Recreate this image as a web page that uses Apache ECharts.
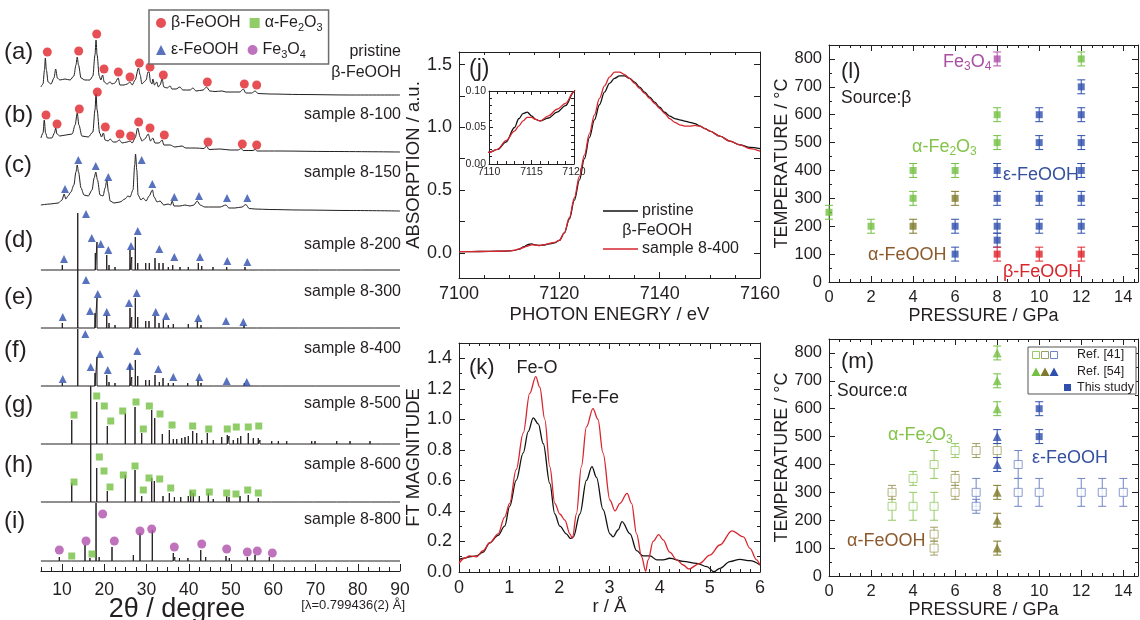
<!DOCTYPE html>
<html>
<head>
<meta charset="utf-8">
<script src="https://cdn.jsdelivr.net/npm/echarts@6.0.0/dist/echarts.min.js"></script>
<style>
  html, body { margin: 0; padding: 0; background: #fff; }
  #chart { width: 1140px; height: 620px; }
</style>
</head>
<body>
<div id="chart"></div>
<script>
// ---------- XRD patterns: [2θ (deg), intensity (arb.)] ----------
const XRD_A = [[5.0,8],[5.5,11],[5.85,25],[6.05,37],[6.3,25],[6.7,13],[7.4,11],[8.1,17],[8.5,26],[8.9,17],[9.5,15],[10.7,16],[11.9,15],[12.8,19],[13.3,30],[13.6,38],[13.9,30],[14.5,17],[15.4,15],[16.6,15],[17.3,19],[17.8,40],[18.05,55],[18.3,40],[18.8,19],[19.2,15],[19.6,20],[20.0,13],[20.65,11],[21.4,13],[21.8,11],[22.5,12],[23.3,17],[23.7,10],[24.7,10],[25.4,11],[26.1,13],[26.6,10],[27.3,15],[28.1,27],[28.5,20],[28.9,11],[29.4,13],[29.9,15],[30.35,23],[30.6,23],[30.95,13],[31.3,11],[31.5,16],[31.9,10],[32.4,13],[32.8,8],[33.2,10],[33.7,16],[34.1,8],[34.85,7],[35.6,9],[36.0,6],[37.0,6],[37.9,8],[38.6,5],[40.3,5],[41.0,7],[41.7,4],[43.4,5],[44.2,8],[45.0,4],[46.2,3.5],[47.9,4],[48.8,3],[50.2,3],[52.1,3],[52.9,6],[53.5,2],[54.9,2],[55.7,4],[56.4,1.5],[59.2,1],[66.3,0.5],[78.2,0],[90,0]];
const XRD_B = [[5.0,14],[5.5,19],[5.8,32],[6.1,19],[6.55,14],[7.6,14],[8.2,19],[8.5,24],[8.8,18],[9.5,16],[10.9,17],[12.4,18],[13.1,27],[13.6,39],[14.0,27],[14.7,16],[16.2,15],[17.3,20],[17.8,42],[18.05,58],[18.3,42],[18.9,19],[19.35,15],[19.8,19],[20.2,12],[20.9,11],[21.4,13],[22.1,10],[22.8,10],[23.6,12],[24.2,9],[25.4,10],[26.1,11],[26.6,9],[27.3,14],[27.9,24],[28.5,15],[28.9,11],[29.6,13],[30.4,18],[30.95,11],[31.5,14],[32.0,9],[32.96,9],[33.7,12],[34.1,7],[35.6,7],[36.7,5],[38.4,6],[39.3,4],[41.5,4],[43.6,3.5],[44.2,6],[44.8,2.5],[47.4,3],[49.8,2],[51.7,2],[52.4,3.5],[52.9,1.5],[55.2,1.5],[55.7,2.5],[56.2,1],[61.6,1],[73.4,0.5],[90,0]];
const XRD_C = [[5.0,6],[7.2,7],[9.1,8],[10.0,11],[10.5,17],[10.9,12],[11.4,15],[12.1,19],[12.8,26],[13.3,39],[13.6,46],[13.9,39],[14.5,23],[15.2,16],[16.2,15],[17.1,21],[17.6,33],[18.0,39],[18.4,31],[19.0,16],[19.7,15],[20.2,23],[20.6,31],[21.0,19],[21.4,10],[22.3,8],[23.7,9],[24.9,12],[25.6,15],[26.1,14],[26.8,21],[27.2,46],[27.4,57],[27.7,41],[28.0,16],[28.7,11],[29.2,13],[29.9,10],[30.6,15],[31.4,21],[31.8,14],[32.5,9],[33.2,10],[34.1,6],[35.1,7],[35.7,6],[36.1,10],[36.5,5],[37.2,5],[37.9,5],[39.1,6],[40.3,5],[41.2,6],[42.0,10],[42.7,6],[43.8,4],[45.5,4],[47.4,4],[48.8,6],[49.5,3],[50.9,3],[52.6,4],[53.5,6.5],[54.3,2.5],[55.7,2],[59.2,1.5],[66.3,1],[78.2,0.5],[90,0]];
// sharp patterns as reflection lists: [2θ, peak height]
const XRD_D = [[10.07,5],[13.72,57],[17.88,17],[18.28,28],[20.58,15],[21.12,5],[22.54,3],[26.09,20],[26.50,13],[27.35,33],[27.92,7],[29.81,7],[30.66,7],[32.01,12],[32.96,7],[33.91,7],[35.16,3],[36.20,5],[37.93,3],[39.89,3],[42.26,7],[43.07,4],[45.74,3],[48.98,3],[53.31,3],[54.09,2],[56.5,1.5],[58,1],[61,1],[64,1],[67,1],[71,1],[75,1],[80.9,1.5],[85,1]];
const XRD_E = [[10.07,5],[13.72,58],[17.81,15],[18.28,30],[20.58,13],[21.12,5],[22.54,3],[26.09,20],[26.50,11],[27.35,30],[27.92,11],[29.81,7],[30.59,7],[32.01,12],[32.96,5],[33.98,8],[35.16,3],[36.34,4],[38.33,2],[39.89,4],[42.02,7],[42.90,3],[45.81,2],[48.98,2],[53.08,3],[56,1],[60,1],[66,1],[72,1],[78,1],[84,1]];
const XRD_F = [[8.18,1],[10.07,3],[13.72,57],[17.81,13],[18.28,29],[20.58,11],[21.12,4],[22.54,3],[26.09,22],[26.50,9],[27.35,26],[27.92,10],[29.81,6],[30.66,6],[32.01,11],[33.03,4],[33.91,8],[35.16,3],[36.34,3],[39.75,3],[42.19,6],[42.90,3],[45.81,2],[48.98,2],[53.15,3],[57,1],[62,1],[70,1],[77,1],[86,1]];
const XRD_G = [[12.30,24],[16.79,58],[18.21,42],[20.0,2],[20.72,18],[21.5,1],[24.98,31],[27.28,37],[28.86,11],[31.23,34],[31.94,26],[33.74,10],[35.40,14],[36.34,5],[37.15,5],[38.33,6],[39.11,7],[39.89,8],[40.93,13],[41.88,11],[43.07,4],[44.39,11],[45.81,4],[47.80,7],[49.12,9],[49.53,8],[50.54,4],[51.58,6],[52.30,8],[54.09,11],[55.28,6],[56.46,6],[56.86,4],[59.63,3],[61.20,3],[63.18,3],[66.33,2],[69.10,3],[69.88,3],[72.25,2],[75.02,3],[78.17,3],[80.53,2],[82.90,3],[85.67,2],[87.63,2]];
const XRD_H = [[12.30,19],[16.79,58],[18.21,34],[20.72,11],[24.98,27],[27.28,32],[28.86,6],[31.23,24],[31.85,21],[33.9,6],[35.40,9],[36.6,5],[38.1,5],[39.89,6],[40.46,11],[41.08,9],[42.50,6],[44.63,9],[45.8,3],[48.98,6],[49.53,5],[52.13,6],[54.09,7],[56.46,4],[59.6,2],[63,2],[66.3,1.5],[69.5,2],[72,1.5],[75,2],[78,2],[81,1.5],[83,2],[86,1.5],[88,1.5]];
const XRD_I = [[9.36,4],[12.30,2],[15.44,16],[16.6,3],[18.05,58],[18.8,4],[21.83,14],[26.88,6],[28.46,28],[31.37,31],[36.34,8],[36.7,4],[37.8,3],[39.8,3],[42.83,11],[44.0,4],[48.82,5],[49.6,3],[53.86,4],[55.68,6],[59.07,4],[62,2],[64,1.5],[67,1.5],[70,1.5],[74,1],[78,1.5],[82,1],[86,1]];

// phase markers per pattern: [2θ, height]
const MARK_A = [[6.52,43],[13.95,44],[18.21,61],[19.94,26],[23.33,23],[26.09,18],[28.30,32],[30.83,28],[33.98,20],[44.39,13],[53.15,11],[56.08,10]];
const MARK_B = [[6.21,37],[8.82,28],[14.09,43],[18.36,60],[20.25,25],[23.73,18],[26.26,16],[28.15,30],[30.83,24],[34.21,17],[44.56,10],[52.67,8],[56.08,7]];
const MARK_C = [[10.71,22],[13.86,51],[17.98,45],[20.96,34],[28.86,51],[31.37,27],[36.58,14],[42.43,15],[49.05,13],[53.86,13]];
const MARK_D = [[10.47,11],[15.68,56],[17.03,32],[19.16,26],[20.96,20],[26.33,24],[27.92,39],[33.03,21],[36.58,13],[42.66,13],[49.12,9],[53.86,8]];
const MARK_E = [[10.17,11],[15.68,48],[16.63,17],[18.45,34],[20.58,16],[25.86,25],[27.68,35],[32.18,16],[34.62,12],[42.26,10],[48.82,7],[52.91,6]];
const MARK_F = [[10.17,7],[15.51,52],[16.79,19],[18.99,32],[20.82,16],[26.09,20],[27.82,35],[32.79,17],[36.34,9],[42.50,9],[48.98,5],[53.72,4]];
const MARK_G = [[12.84,29],[18.21,48],[20.01,38],[21.53,23],[24.37,33],[27.51,42],[29.24,15],[30.66,38],[33.20,30],[36.04,19],[40.93,18],[44.72,15],[49.12,15],[51.25,17],[54.09,17],[56.56,18]];
const MARK_H = [[12.84,20],[18.83,45],[19.94,31],[21.36,15],[24.51,27],[27.28,36],[29.24,12],[30.59,24],[33.12,23],[35.73,14],[40.93,9],[44.86,10],[48.98,9],[51.18,8],[53.95,12],[56.46,9]];
const MARK_I_MAG = [[9.36,11],[15.68,20],[19.63,47],[22.38,20],[28.46,30],[31.23,32],[36.58,14],[43.07,17],[48.98,12],[53.86,9],[56.22,10],[59.78,8]];
const MARK_I_HEM = [[12.30,5],[17.10,7]];

const XRD_LABELS = ['(a)', '(b)', '(c)', '(d)', '(e)', '(f)', '(g)', '(h)', '(i)'];
const XRD_SAMPLES = [['pristine', 'β-FeOOH'], ['sample 8-100'], ['sample 8-150'], ['sample 8-200'], ['sample 8-300'], ['sample 8-400'], ['sample 8-500'], ['sample 8-600'], ['sample 8-800']];
const XRD_TICK_LABELS = [10, 20, 30, 40, 50, 60, 70, 80, 90];

// ---------- (j) Fe K-edge XANES: [photon energy (eV), absorption] ----------
const J_PRISTINE = [[7100,0.010],[7104,0.011],[7108,0.013],[7110,0.016],[7111,0.020],[7112,0.030],[7113,0.050],[7113.5,0.062],[7114,0.069],[7114.5,0.071],[7115,0.066],[7115.5,0.061],[7116,0.059],[7117,0.063],[7118,0.071],[7119,0.080],[7120,0.099],[7121,0.16],[7122,0.27],[7123,0.42],[7124,0.58],[7125,0.75],[7126,0.92],[7127,1.06],[7128,1.18],[7129,1.28],[7130,1.35],[7131,1.39],[7132,1.41],[7133,1.41],[7134,1.39],[7135,1.36],[7136,1.32],[7137,1.28],[7138,1.24],[7139,1.20],[7140,1.16],[7141,1.12],[7142,1.09],[7143,1.07],[7144,1.06],[7145,1.05],[7146,1.04],[7147,1.03],[7148,1.01],[7149,0.99],[7150,0.97],[7152,0.93],[7154,0.89],[7156,0.86],[7158,0.84],[7160,0.83]];
const J_SAMPLE = [[7100,0.010],[7104,0.011],[7108,0.013],[7110,0.016],[7111,0.020],[7112,0.032],[7113,0.045],[7113.5,0.052],[7114,0.059],[7114.5,0.064],[7115,0.064],[7115.5,0.061],[7116,0.059],[7117,0.066],[7118,0.075],[7119,0.083],[7120,0.099],[7121,0.16],[7122,0.28],[7123,0.44],[7124,0.61],[7125,0.78],[7126,0.95],[7127,1.10],[7128,1.23],[7129,1.33],[7130,1.40],[7131,1.44],[7132,1.44],[7133,1.42],[7134,1.39],[7135,1.35],[7136,1.31],[7137,1.27],[7138,1.23],[7139,1.19],[7140,1.15],[7141,1.11],[7142,1.07],[7143,1.04],[7144,1.02],[7145,1.01],[7146,1.01],[7147,1.015],[7148,1.01],[7149,0.99],[7150,0.97],[7152,0.93],[7154,0.89],[7156,0.86],[7158,0.83],[7160,0.81]];
const J_Y_LABELS = [0, 0.5, 1.0, 1.5];

// ---------- (k) Fourier transform of EXAFS: [r (Å), |FT|] ----------
const K_PRISTINE = [[0,0.083],[0.11,0.09],[0.21,0.10],[0.35,0.105],[0.48,0.13],[0.61,0.19],[0.78,0.24],[0.91,0.30],[1.01,0.43],[1.14,0.60],[1.28,0.78],[1.38,0.92],[1.48,1.01],[1.58,0.97],[1.68,0.84],[1.81,0.58],[1.91,0.38],[2.01,0.30],[2.14,0.25],[2.22,0.22],[2.28,0.23],[2.41,0.38],[2.54,0.60],[2.65,0.69],[2.74,0.62],[2.87,0.41],[3.01,0.25],[3.07,0.23],[3.17,0.275],[3.25,0.33],[3.41,0.25],[3.54,0.14],[3.67,0.105],[3.81,0.105],[3.94,0.08],[4.07,0.08],[4.20,0.09],[4.47,0.07],[4.74,0.057],[4.94,0.035],[5.08,0.002],[5.20,0.024],[5.40,0.068],[5.60,0.083],[5.80,0.074],[6.0,0.046]];
const K_SAMPLE = [[0,0.057],[0.11,0.09],[0.21,0.105],[0.35,0.10],[0.48,0.14],[0.61,0.19],[0.78,0.25],[0.91,0.36],[1.01,0.45],[1.14,0.67],[1.28,0.91],[1.41,1.17],[1.53,1.28],[1.61,1.21],[1.71,1.0],[1.81,0.69],[1.91,0.45],[2.01,0.38],[2.11,0.34],[2.21,0.25],[2.26,0.22],[2.34,0.38],[2.44,0.69],[2.54,0.95],[2.67,1.07],[2.77,1.0],[2.87,0.78],[3.01,0.47],[3.11,0.40],[3.21,0.45],[3.35,0.515],[3.44,0.45],[3.54,0.25],[3.64,0.10],[3.72,0.005],[3.77,0.08],[3.87,0.20],[3.98,0.245],[4.07,0.21],[4.20,0.13],[4.34,0.08],[4.47,0.046],[4.58,0.02],[4.80,0.057],[5.00,0.11],[5.20,0.177],[5.44,0.27],[5.67,0.23],[5.80,0.155],[5.93,0.08],[6.0,0.046]];

// ---------- (l) products from β-FeOOH: [pressure (GPa), temperature (°C)] ----------
const L_ERR = 25;
const L_HEMATITE = [[0,250],[2,200],[4,300],[4,400],[6,400],[8,500],[8,600],[12,800]];
const L_GOETHITE = [[4,200],[6,300]];
const L_EPSILON = [[6,100],[6,200],[8,150],[8,200],[8,300],[8,400],[10,200],[10,300],[10,500],[10,600],[12,200],[12,300],[12,400],[12,500],[12,600],[12,700]];
const L_AKAGANEITE = [[8,100],[10,100],[12,100]];
const L_MAGNETITE = [[8,800]];

// ---------- (m) products from α-FeOOH: [pressure, temperature, error] ----------
const M_REF41_HEM = [[3,250,50],[4,350,25],[4,250,50],[5,400,50],[5,250,50],[6,450,25]];
const M_REF41_GOE = [[3,300,25],[5,150,25],[5,100,25],[6,350,25],[6,300,25],[7,450,25],[8,450,25]];
const M_REF41_EPS = [[7,300,50],[7,250,25],[9,400,50],[9,300,50],[10,300,50],[12,300,50],[13,300,50],[14,300,50]];
const M_REF54_HEM = [[8,800,25],[8,700,25],[8,600,25]];
const M_REF54_EPS = [[8,500,25],[8,400,25]];
const M_REF54_GOE = [[8,300,25],[8,200,25],[8,100,25]];
const M_THIS_EPS = [[10,600,25],[10,500,25]];

// ---------- styling ----------
const INK = '#231f20';
const FONT = '"Liberation Sans", Arial, Helvetica, sans-serif';
const RED = '#e0242b', BLUE = '#2f4fae', GREEN = '#74c043', PURPLE = '#b050ad', OLIVE = '#7f7a2c', BROWN = '#8c5a2c';
const TXT_GREEN = '#84c44a', TXT_BLUE = '#34509f', TXT_RED = '#d8262c', TXT_PURPLE = '#a94fa3';
const OPEN_GREEN = '#92cb62', OPEN_OLIVE = '#a09d62', OPEN_BLUE = '#6f84c6';

const XRD_MIN = 5, XRD_MAX = 90;
const XRD_LEFT = 40.9, XRD_W = 359.1, XRD_ROW_H = 70;
const XRD_BASE = [95, 152, 211, 270, 328, 386, 444, 502, 561];
const XRD_LABEL_Y = [52, 115, 165, 240, 297, 350, 405, 465, 521];
const XRD_SAMPLE_Y = [52, 115, 173, 245, 292, 349, 404, 465, 520];

function sticks(list) {
  const out = [[XRD_MIN, 0]];
  list.forEach(([p, h]) => { out.push([p, 0], [p, h], [p, 0]); });
  out.push([XRD_MAX, 0]);
  return out;
}
function range(a, b, step) { const r = []; for (let v = a; v <= b + 1e-9; v += step) r.push(+v.toFixed(4)); return r; }
function subText(s) { return s.replace(/(\d)/g, '{s|$1}'); }
const plain = v => String(v);

const grids = [], xAxis = [], yAxis = [], series = [];

// ----- stacked XRD patterns, one grid each -----
const PATTERNS = [
  { data: XRD_A, smooth: true }, { data: XRD_B, smooth: true }, { data: XRD_C, smooth: true },
  { data: sticks(XRD_D) }, { data: sticks(XRD_E) }, { data: sticks(XRD_F) },
  { data: sticks(XRD_G) }, { data: sticks(XRD_H) }, { data: sticks(XRD_I) }
];
const PHASE = {
  beta: { name: 'β-FeOOH', symbol: 'circle', size: 9, color: RED },
  eps: { name: 'ε-FeOOH', symbol: 'triangle', size: 8, color: BLUE },
  hem: { name: 'α-Fe2O3', symbol: 'rect', size: 7, color: GREEN },
  mag: { name: 'Fe3O4', symbol: 'circle', size: 9, color: PURPLE }
};
const MARKERS = [
  [['beta', MARK_A]], [['beta', MARK_B]], [['eps', MARK_C]], [['eps', MARK_D]], [['eps', MARK_E]],
  [['eps', MARK_F]], [['hem', MARK_G]], [['hem', MARK_H]], [['mag', MARK_I_MAG], ['hem', MARK_I_HEM]]
];
PATTERNS.forEach((p, i) => {
  grids.push({ left: XRD_LEFT, top: XRD_BASE[i] - XRD_ROW_H, width: XRD_W, height: XRD_ROW_H });
  xAxis.push({ type: 'value', gridIndex: i, min: XRD_MIN, max: XRD_MAX, show: false });
  yAxis.push({ type: 'value', gridIndex: i, min: 0, max: XRD_ROW_H, show: false });
  series.push({
    type: 'line', xAxisIndex: i, yAxisIndex: i, data: p.data, symbol: 'none',
    smooth: p.smooth ? 0.3 : false, smoothMonotone: 'x', clip: false, silent: true,
    lineStyle: { color: INK, width: 1 }, z: 2
  });
  MARKERS[i].forEach(([key, pts]) => {
    const ph = PHASE[key];
    series.push({
      type: 'scatter', name: ph.name, xAxisIndex: i, yAxisIndex: i, data: pts,
      symbol: ph.symbol, symbolSize: ph.size, itemStyle: { color: ph.color }, clip: false, z: 3
    });
  });
});

// ----- XRD 2θ axis (grid 9) -----
grids.push({ left: XRD_LEFT, top: 500, width: XRD_W, height: 71 });
xAxis.push({
  type: 'value', gridIndex: 9, position: 'bottom', min: XRD_MIN, max: XRD_MAX,
  axisLine: { show: true, onZero: false, lineStyle: { color: INK, width: 1 } },
  axisTick: { show: true, inside: true, length: 7, customValues: XRD_TICK_LABELS, lineStyle: { color: INK } },
  axisLabel: { customValues: XRD_TICK_LABELS, color: INK, fontFamily: FONT, fontSize: 17.5, margin: 10, formatter: plain },
  splitLine: { show: false }
});
xAxis.push({
  type: 'value', gridIndex: 9, position: 'bottom', min: XRD_MIN, max: XRD_MAX,
  axisLine: { show: false },
  axisTick: { show: true, inside: true, length: 4, customValues: range(5, 90, 2.5).filter(v => v % 10 !== 0), lineStyle: { color: INK } },
  axisLabel: { show: false }, splitLine: { show: false }
});
yAxis.push({ type: 'value', gridIndex: 9, min: 0, max: 1, show: false });

// ----- framed panels -----
function axis(gridIndex, position, spec, labelled) {
  const a = {
    type: 'value', gridIndex, position, min: spec.min, max: spec.max,
    axisLine: { show: true, onZero: false, lineStyle: { color: INK, width: 1 } },
    axisTick: { show: true, inside: true, length: spec.tickLen || 6, lineStyle: { color: INK, width: 1 } },
    minorTick: { show: !!spec.minor, splitNumber: spec.minor || 2, length: 3, lineStyle: { color: INK, width: 1 } },
    splitLine: { show: false }, minorSplitLine: { show: false },
    axisLabel: { show: !!labelled, color: INK, fontFamily: FONT, fontSize: spec.fontSize || 18, margin: spec.margin || 7,
      formatter: spec.fmt || plain }
  };
  if (spec.interval != null) a.interval = spec.interval;
  if (spec.ticks) a.axisTick.customValues = spec.ticks;
  if (spec.labels) a.axisLabel.customValues = spec.labels;
  if (spec.hideMax) a.axisLabel.showMaxLabel = false;
  if (labelled && spec.name) {
    a.name = spec.name; a.nameLocation = 'middle'; a.nameGap = spec.nameGap;
    a.nameTextStyle = { color: INK, fontFamily: FONT, fontSize: spec.nameSize || 18.5 };
  }
  return a;
}
function framed(gridIndex, gridRect, xs, ys) {
  grids.push(Object.assign({}, gridRect));
  const xi = xAxis.length, yi = yAxis.length;
  xAxis.push(axis(gridIndex, 'bottom', xs, true), axis(gridIndex, 'top', xs, false));
  yAxis.push(axis(gridIndex, 'left', ys, true), axis(gridIndex, 'right', ys, false));
  return { xi, yi };
}

// (j) XANES
const J = framed(10, { left: 459, top: 52, width: 301, height: 226 },
  { min: 7100, max: 7160, interval: 20, minor: 4, fontSize: 18, name: 'PHOTON ENEGRY / eV', nameGap: 27 },
  { min: -0.2, max: 1.6, labels: J_Y_LABELS, ticks: range(0, 1.5, 0.25), fmt: v => v.toFixed(1), fontSize: 18, name: 'ABSORPTION / a.u.', nameGap: 30 });
// (j) inset: pre-edge region
const JI = framed(11, { left: 489, top: 91, width: 85, height: 73, show: true, backgroundColor: '#fff', borderWidth: 0 },
  { min: 7110, max: 7120, interval: 5, minor: 5, fontSize: 10.5, margin: 3, tickLen: 4 },
  { min: 0, max: 0.10, interval: 0.05, minor: 5, fontSize: 10.5, margin: 3, tickLen: 4, fmt: v => v.toFixed(2) });
// (k) FT magnitude
const K = framed(12, { left: 459, top: 343, width: 301, height: 229 },
  { min: 0, max: 6, interval: 1, minor: 5, fontSize: 18, name: 'r / Å', nameGap: 22 },
  { min: 0, max: 1.5, interval: 0.2, minor: 2, fontSize: 18, hideMax: true, fmt: v => v.toFixed(1), name: 'FT MAGNITUDE', nameGap: 31 });
// (l) source β-FeOOH
const L = framed(13, { left: 829, top: 45, width: 309, height: 237 },
  { min: 0, max: 14.7, interval: 2, minor: 4, fontSize: 16.5, hideMax: true, name: 'PRESSURE / GPa', nameGap: 23, nameSize: 18 },
  { min: 0, max: 850, interval: 100, minor: 2, fontSize: 16.5, hideMax: true, name: 'TEMPERATURE / °C', nameGap: 30, nameSize: 18 });
// (m) source α-FeOOH
const M = framed(14, { left: 829, top: 339, width: 309, height: 237 },
  { min: 0, max: 14.7, interval: 2, minor: 4, fontSize: 16.5, hideMax: true, name: 'PRESSURE / GPa', nameGap: 18, nameSize: 18 },
  { min: 0, max: 850, interval: 100, minor: 2, fontSize: 16.5, hideMax: true, name: 'TEMPERATURE / °C', nameGap: 30, nameSize: 18 });

function curve(ax, data, color, z) {
  return { type: 'line', xAxisIndex: ax.xi, yAxisIndex: ax.yi, data, symbol: 'none', smooth: 0.35, smoothMonotone: 'x',
    clip: true, silent: true, lineStyle: { color, width: 1.3 }, z: z || 2 };
}
series.push(curve(J, J_PRISTINE, '#111', 2), curve(J, J_SAMPLE, '#d7262e', 3));
series.push(curve(JI, J_PRISTINE, '#111', 4), curve(JI, J_SAMPLE, '#d7262e', 5));
series.push(curve(K, K_PRISTINE, '#111', 2), curve(K, K_SAMPLE, '#d7262e', 3));

function errorBars(ax, data, color) {
  return {
    type: 'custom', xAxisIndex: ax.xi, yAxisIndex: ax.yi, data, silent: true, z: 2,
    encode: { x: 0, y: 1 },
    renderItem(params, api) {
      const x = api.value(0), y = api.value(1), e = api.value(2);
      const hi = api.coord([x, y + e]), lo = api.coord([x, y - e]);
      const w = 4, style = { stroke: color, lineWidth: 1 };
      return { type: 'group', children: [
        { type: 'line', shape: { x1: hi[0], y1: hi[1], x2: lo[0], y2: lo[1] }, style },
        { type: 'line', shape: { x1: hi[0] - w, y1: hi[1], x2: hi[0] + w, y2: hi[1] }, style },
        { type: 'line', shape: { x1: lo[0] - w, y1: lo[1], x2: lo[0] + w, y2: lo[1] }, style }
      ] };
    }
  };
}
function points(ax, data, symbol, size, color, open) {
  return {
    type: 'scatter', xAxisIndex: ax.xi, yAxisIndex: ax.yi, data, symbol, symbolSize: size, silent: true, z: 3,
    itemStyle: open ? { color: '#fff', borderColor: color, borderWidth: 1 } : { color }
  };
}
const withErr = list => list.map(([p, t]) => [p, t, L_ERR]);
[[L_HEMATITE, GREEN], [L_GOETHITE, OLIVE], [L_EPSILON, BLUE], [L_AKAGANEITE, RED], [L_MAGNETITE, PURPLE]].forEach(([d, c]) => {
  series.push(errorBars(L, withErr(d), c), points(L, d, 'rect', 7, c));
});
[[M_REF41_HEM, OPEN_GREEN], [M_REF41_GOE, OPEN_OLIVE], [M_REF41_EPS, OPEN_BLUE]].forEach(([d, c]) => {
  series.push(errorBars(M, d, c), points(M, d, 'rect', 8, c, true));
});
[[M_REF54_HEM, GREEN], [M_REF54_EPS, BLUE], [M_REF54_GOE, OLIVE]].forEach(([d, c]) => {
  series.push(errorBars(M, d, c), points(M, d, 'triangle', 9, c));
});
series.push(errorBars(M, M_THIS_EPS, BLUE), points(M, M_THIS_EPS, 'rect', 7, BLUE));

// ----- annotations -----
const g = [];
function txt(x, y, text, size, opts) {
  opts = opts || {};
  g.push({ type: 'text', x, y, silent: true, z: 10, style: {
    text, fill: opts.color || INK, font: `${size}px ${FONT}`, align: opts.align || 'left', verticalAlign: 'middle',
    rich: { s: { fontSize: Math.round(size * 0.65), fontFamily: FONT, fill: opts.color || INK, padding: [Math.round(size * 0.55), 0, 0, 0] } }
  } });
}
XRD_LABELS.forEach((t, i) => txt(4, XRD_LABEL_Y[i], t, 24));
XRD_SAMPLES.forEach((lines, i) => {
  txt(401, XRD_SAMPLE_Y[i], lines[0], 16, { align: 'right' });
  if (lines[1]) txt(401, XRD_SAMPLE_Y[i] + 21, lines[1], 16, { align: 'right' });
});
txt(177, 610, '2θ / degree', 27, { align: 'center' });
txt(405, 605, '[λ=0.799436(2) Å]', 13, { align: 'right' });

txt(469, 70, '(j)', 23);
g.push({ type: 'line', shape: { x1: 603, y1: 211, x2: 638, y2: 211 }, style: { stroke: '#111', lineWidth: 1.5 } });
g.push({ type: 'line', shape: { x1: 603, y1: 249, x2: 638, y2: 249 }, style: { stroke: '#d7262e', lineWidth: 1.5 } });
txt(642, 211, 'pristine', 16);
txt(692, 231, 'β-FeOOH', 16, { align: 'right' });
txt(642, 249, 'sample 8-400', 16);

txt(469, 368, '(k)', 22);
txt(537, 368, 'Fe-O', 18, { align: 'center' });
txt(595, 398, 'Fe-Fe', 18, { align: 'center' });

txt(841, 72, '(l)', 22);
txt(841, 98, 'Source:β', 17.5);
txt(943, 62, subText('Fe3O4'), 18, { color: TXT_PURPLE });
txt(912, 147, subText('α-Fe2O3'), 18, { color: TXT_GREEN });
txt(1003, 175, 'ε-FeOOH', 18, { color: TXT_BLUE });
txt(868, 255, 'α-FeOOH', 18, { color: BROWN });
txt(1003, 272, 'β-FeOOH', 18, { color: TXT_RED });

txt(841, 362, '(m)', 22);
txt(837, 391, 'Source:α', 17.5);
txt(888, 435, subText('α-Fe2O3'), 18, { color: TXT_GREEN });
txt(1032, 458, 'ε-FeOOH', 18, { color: TXT_BLUE });
txt(847, 541, 'α-FeOOH', 18, { color: BROWN });

// (m) key box
g.push({ type: 'rect', shape: { x: 1028, y: 347, width: 108, height: 47 }, style: { fill: '#fff', stroke: '#555', lineWidth: 1 }, z: 9 });
[[1036, OPEN_GREEN], [1045, OPEN_OLIVE], [1054, OPEN_BLUE]].forEach(([x, c]) => {
  g.push({ type: 'rect', shape: { x: x - 3.5, y: 355 - 3.5, width: 7, height: 7 }, style: { fill: '#fff', stroke: c, lineWidth: 1 }, z: 10 });
});
[[1036, GREEN], [1045, OLIVE], [1054, BLUE]].forEach(([x, c]) => {
  g.push({ type: 'polygon', shape: { points: [[x, 367.5], [x + 4.5, 376], [x - 4.5, 376]] }, style: { fill: c }, z: 10 });
});
g.push({ type: 'rect', shape: { x: 1064, y: 384, width: 7, height: 7 }, style: { fill: BLUE }, z: 10 });
txt(1077, 355, 'Ref. [41]', 12.5);
txt(1077, 372, 'Ref. [54]', 12.5);
txt(1077, 387.5, 'This study', 12.5);

const option = {
  animation: false,
  backgroundColor: '#fff',
  textStyle: { fontFamily: FONT },
  grid: grids, xAxis, yAxis, series, graphic: g,
  legend: {
    left: 149, top: 10, width: 190, itemWidth: 10, itemHeight: 10, itemGap: 9,
    padding: [5, 6, 4, 7], borderColor: '#6d6d6d', borderWidth: 1.5, backgroundColor: '#fff',
    selectedMode: false,
    data: [PHASE.beta.name, PHASE.hem.name, PHASE.eps.name, PHASE.mag.name],
    formatter: name => subText(name),
    textStyle: { fontFamily: FONT, fontSize: 16, color: INK,
      rich: { s: { fontFamily: FONT, fontSize: 11, color: INK, padding: [9, 0, 0, 0] } } }
  }
};

const chart = echarts.init(document.getElementById('chart'), null, { renderer: 'canvas' });
chart.setOption(option);
</script>
</body>
</html>
